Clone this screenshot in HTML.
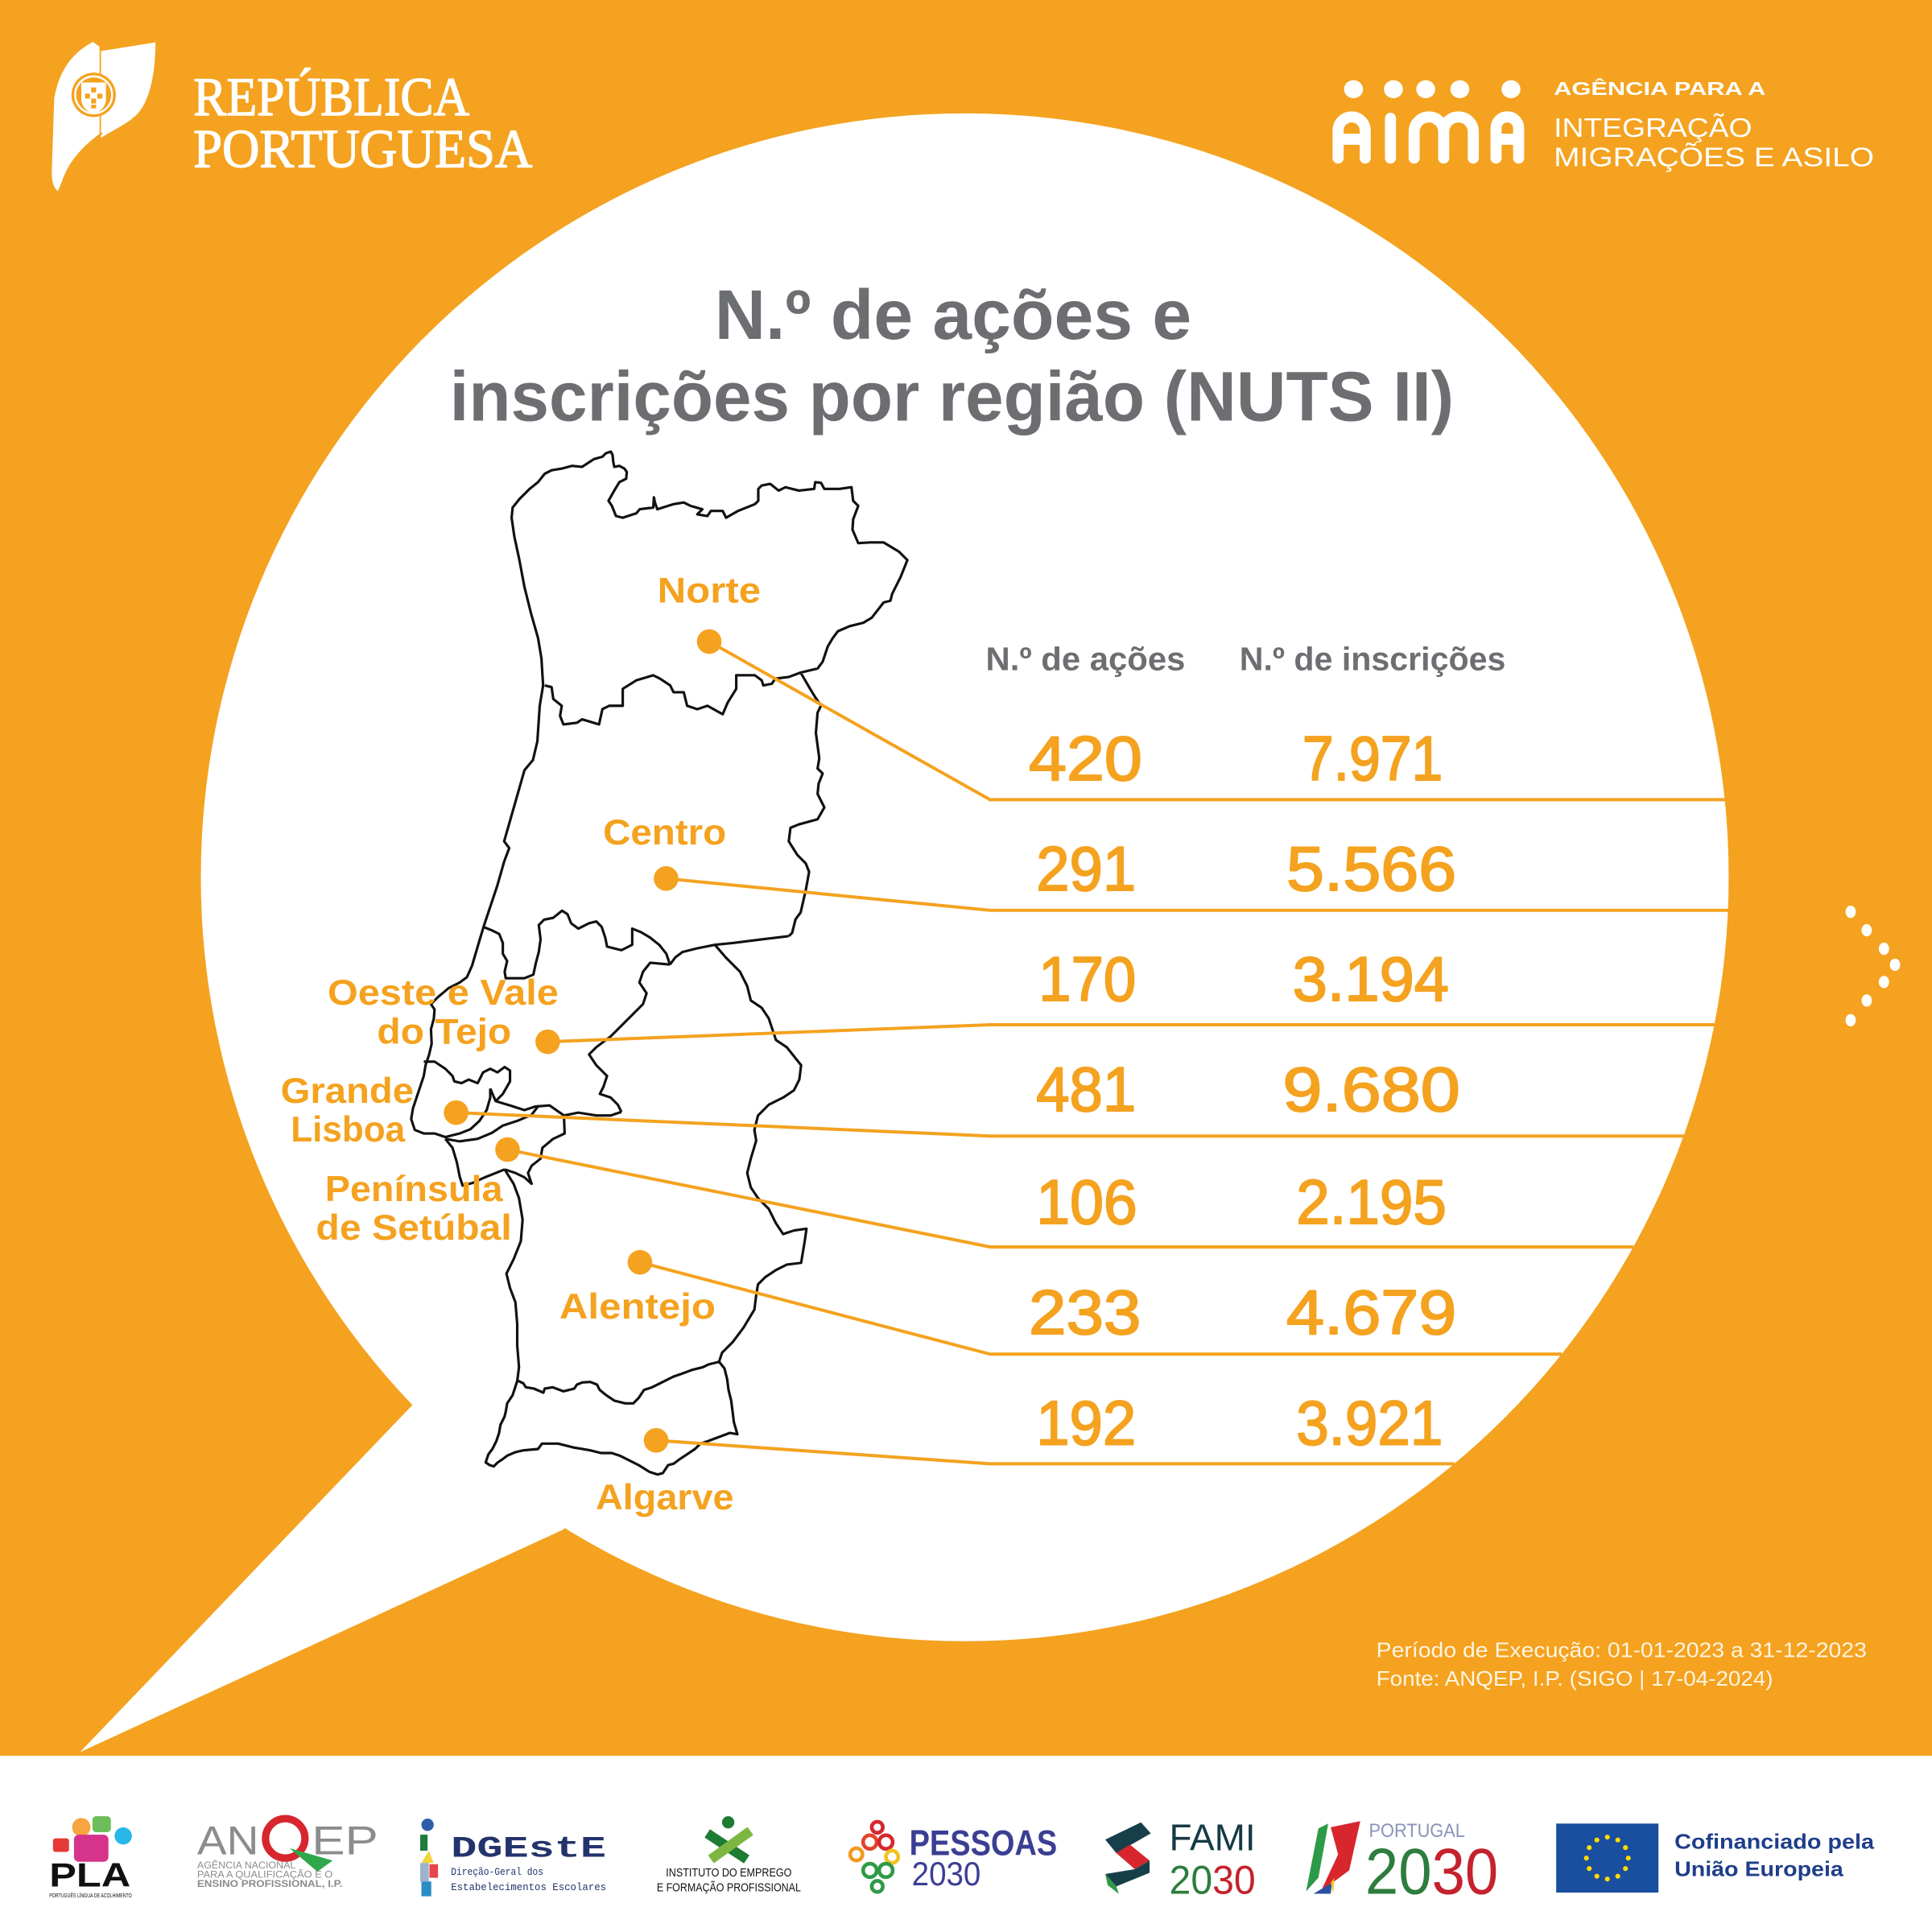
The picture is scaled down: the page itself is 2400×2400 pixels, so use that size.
<!DOCTYPE html>
<html><head><meta charset="utf-8"><style>
html,body{margin:0;padding:0;background:#F4A21F}
svg{display:block}
text{font-family:"Liberation Sans",sans-serif}
</style></head><body>
<svg xmlns="http://www.w3.org/2000/svg" width="2400" height="2400" viewBox="0 0 2400 2400">
<rect width="2400" height="2400" fill="#F4A21F"/>
<g transform="scale(1.530612)">
  <!-- bubble -->
  <circle cx="783" cy="712" r="620" fill="#fff"/>
  <polygon points="335,1140 65,1422 458,1241 450,1150" fill="#fff"/>
  <!-- footer band -->
  <rect x="0" y="1425" width="1568" height="143" fill="#fff"/>

  <!-- RP logo -->
  <path d="M75.5,34 C60,42 48,56 44,80 L42,140 C42,148 44,153 47,155 L50,148 C56,130 68,118 80.8,110 L80.8,38 Z" fill="#fff"/>
  <path d="M82,41.4 L126.2,34.4 C126,60 122,80 112,92 C102,102 90,106 82,112 Z" fill="#fff"/>
  <path d="M80,114 C66,122 56,134 50,150 M83,108 C70,117 60,128 54,140" stroke="#F4A21F" stroke-width="1.4" fill="none"/>
  <circle cx="76" cy="77" r="18" fill="#F4A21F"/>
  <circle cx="76" cy="77" r="15" fill="none" stroke="#fff" stroke-width="1.6"/>
  <path d="M66,67 H86 V80 C86,87 81,91 76,92 C71,91 66,87 66,80 Z" fill="#fff"/>
  <g fill="#F4A21F"><rect x="74" y="71" width="4" height="4"/><rect x="69" y="76" width="4" height="4"/><rect x="79" y="76" width="4" height="4"/><rect x="74" y="80" width="4" height="4"/><rect x="74" y="85" width="4" height="3"/></g>
  <text x="157" y="93.5" font-size="44" fill="#fff" stroke="#fff" stroke-width="0.9" textLength="224" lengthAdjust="spacingAndGlyphs" style="font-family:'Liberation Serif',serif">REPÚBLICA</text>
  <text x="157" y="135.5" font-size="44" fill="#fff" stroke="#fff" stroke-width="0.9" textLength="275" lengthAdjust="spacingAndGlyphs" style="font-family:'Liberation Serif',serif">PORTUGUESA</text>

  <!-- AIMA logo -->
  <g fill="#fff">
    <ellipse cx="1098.5" cy="72.4" rx="7.7" ry="7.3"/>
    <ellipse cx="1130.9" cy="72.4" rx="7.7" ry="7.3"/>
    <ellipse cx="1157.1" cy="72.4" rx="7.7" ry="7.3"/>
    <ellipse cx="1184.8" cy="72.4" rx="7.7" ry="7.3"/>
    <ellipse cx="1226.3" cy="72.4" rx="7.7" ry="7.3"/>
  </g>
  <g fill="none" stroke="#fff" stroke-width="9" stroke-linecap="round">
    <path d="M1086,128.3 V105.9 A11,11 0 0 1 1108,105.9 V128.3 M1086,113 H1108"/>
    <path d="M1128.5,96 V128.3"/>
    <path d="M1147.7,128.3 V106.9 A12,12 0 0 1 1171.7,106.9 V128.3 M1171.7,106.9 A12,12 0 0 1 1195.7,106.9 V128.3"/>
    <path d="M1214.2,128.3 V104 A9.15,9.15 0 0 1 1232.5,104 V128.3 M1214.2,113 H1232.5"/>
  </g>
  <text x="1261" y="77" font-size="15" font-weight="bold" fill="#fff" textLength="172" lengthAdjust="spacingAndGlyphs">AGÊNCIA PARA A</text>
  <text x="1261" y="111" font-size="22" fill="#fff" textLength="161" lengthAdjust="spacingAndGlyphs">INTEGRAÇÃO</text>
  <text x="1261" y="135" font-size="22" fill="#fff" textLength="260" lengthAdjust="spacingAndGlyphs">MIGRAÇÕES E ASILO</text>

  <!-- Title -->
  <text x="580" y="275" font-size="57" font-weight="bold" fill="#6D6E71" textLength="387" lengthAdjust="spacingAndGlyphs">N.º de ações e</text>
  <text x="365" y="341.5" font-size="57" font-weight="bold" fill="#6D6E71" textLength="815" lengthAdjust="spacingAndGlyphs">inscrições por região (NUTS II)</text>

  <!-- Column headers -->
  <text x="800" y="544" font-size="26.5" font-weight="bold" fill="#6D6E71" textLength="162" lengthAdjust="spacingAndGlyphs">N.º de ações</text>
  <text x="1006" y="544" font-size="26.5" font-weight="bold" fill="#6D6E71" textLength="216" lengthAdjust="spacingAndGlyphs">N.º de inscrições</text>

  <!-- Numbers -->
  <g font-size="51" fill="#F4A21F" stroke="#F4A21F" stroke-width="1.3" stroke-linejoin="round">
    <text x="835" y="633" textLength="92" lengthAdjust="spacingAndGlyphs">420</text>
    <text x="1057" y="633" textLength="114" lengthAdjust="spacingAndGlyphs">7.971</text>
    <text x="841" y="722.5" textLength="81" lengthAdjust="spacingAndGlyphs">291</text>
    <text x="1044" y="722.5" textLength="138" lengthAdjust="spacingAndGlyphs">5.566</text>
    <text x="843" y="812" textLength="79" lengthAdjust="spacingAndGlyphs">170</text>
    <text x="1049" y="812" textLength="127" lengthAdjust="spacingAndGlyphs">3.194</text>
    <text x="841" y="901.5" textLength="81" lengthAdjust="spacingAndGlyphs">481</text>
    <text x="1041" y="901.5" textLength="144" lengthAdjust="spacingAndGlyphs">9.680</text>
    <text x="841" y="993" textLength="82" lengthAdjust="spacingAndGlyphs">106</text>
    <text x="1052" y="993" textLength="122" lengthAdjust="spacingAndGlyphs">2.195</text>
    <text x="835" y="1082.5" textLength="91" lengthAdjust="spacingAndGlyphs">233</text>
    <text x="1044" y="1082.5" textLength="138" lengthAdjust="spacingAndGlyphs">4.679</text>
    <text x="841" y="1172.5" textLength="81" lengthAdjust="spacingAndGlyphs">192</text>
    <text x="1052" y="1172.5" textLength="119" lengthAdjust="spacingAndGlyphs">3.921</text>
  </g>

  <!-- Right arrow dots -->
  <g fill="#fff">
    <ellipse cx="1502" cy="740" rx="4.2" ry="5"/>
    <ellipse cx="1515" cy="755" rx="4.2" ry="5"/>
    <ellipse cx="1529" cy="770" rx="4.2" ry="5"/>
    <ellipse cx="1538" cy="783" rx="4.2" ry="5"/>
    <ellipse cx="1529" cy="797" rx="4.2" ry="5"/>
    <ellipse cx="1515" cy="812" rx="4.2" ry="5"/>
    <ellipse cx="1502" cy="828" rx="4.2" ry="5"/>
  </g>

  <!-- Footnote -->
  <text x="1117" y="1345" font-size="17" fill="#FFF4E2" textLength="398" lengthAdjust="spacingAndGlyphs">Período de Execução: 01-01-2023 a 31-12-2023</text>
  <text x="1117" y="1368" font-size="17" fill="#FFF4E2" textLength="322" lengthAdjust="spacingAndGlyphs">Fonte: ANQEP, I.P. (SIGO | 17-04-2024)</text>
</g>

<!-- MAP -->
<g fill="none" stroke="#111" stroke-linejoin="round">
  <g transform="translate(500,540) scale(0.42092)" stroke-width="7.5">
    <path d="M205,1568 L225,1500 L240,1450 L260,1390 L280,1330 L300,1260 L315,1220 L300,1200 L320,1130 L340,1060 L360,990 L385,960 L398,905 L405,800 L415,740 L410,660 L400,600 L380,530 L360,450 L345,370 L330,300 L322,245 L325,215 L345,190 L375,160 L400,140 L420,115 L440,105 L470,100 L500,92 L530,95 L545,85 L565,72 L590,65 L600,55 L615,50 L620,60 L622,80 L625,95 L640,92 L655,100 L662,110 L660,130 L640,140 L625,165 L608,195 L618,210 L630,240 L650,245 L690,232 L700,220 L740,215 L742,185 L745,200 L752,220 L800,205 L830,200 L850,210 L885,220 L870,235 L900,240 L910,225 L945,225 L955,245 L990,225 L1040,205 L1050,195 L1050,160 L1060,150 L1085,145 L1110,165 L1130,155 L1170,165 L1215,160 L1218,140 L1235,142 L1245,160 L1290,160 L1325,155 L1330,195 L1345,210 L1330,250 L1328,280 L1345,320 L1380,318 L1420,318 L1465,345 L1490,370 L1470,420 L1445,470 L1440,490 L1420,495 L1385,540 L1360,555 L1320,565 L1285,580 L1270,600 L1255,625 L1240,670 L1225,690 L1175,702 L1200,745 L1215,770 L1235,800 L1225,820 L1220,880 L1230,955 L1225,985 L1240,1000 L1228,1030 L1225,1060 L1245,1100 L1225,1135 L1170,1150 L1145,1160 L1140,1200 L1165,1240 L1190,1265 L1200,1290 L1190,1345 L1175,1410 L1160,1430 L1150,1470 L1140,1480"/>
    <path d="M420,740 L440,745 L445,780 L470,800 L465,830 L475,855 L515,850 L530,840 L580,855 L590,810 L610,800 L650,800 L650,750 L690,725 L740,710 L760,720 L790,740 L800,760 L830,760 L840,800 L870,810 L900,800 L945,825 L960,790 L985,750 L985,710 L1040,710 L1060,725 L1065,740 L1090,735 L1100,720 L1140,715 L1175,702"/>
  </g>
  <g transform="translate(330,1100) scale(0.44643)" stroke-width="7">
    <path d="M574,224 L560,255 L540,270 L510,285 L480,310 L460,330 L470,345 L468,370 L460,400 L462,440 L455,470 L445,500 L440,530 L430,560 L420,590 L410,620 L405,650 L415,680 L440,690 L470,690 L500,700 L540,690 L570,678 L595,655 L615,625 L625,590 L625,565"/>
    <path d="M605,115 L630,125 L650,135 L660,160 L660,190 L672,210 L665,240 L668,258 L720,258 L745,248 L752,215 L760,185 L765,150 L760,110 L775,95 L800,90 L825,70 L840,80 L850,105 L870,120 L900,105 L920,100 L935,115 L945,145 L950,170 L990,180 L1020,165 L1020,120 L1045,130 L1070,145 L1095,165 L1115,190 L1125,220"/>
    <path d="M1455,141 L1380,150 L1300,160 L1250,165 L1200,175 L1160,185 L1140,200 L1125,220"/>
    <path d="M1250,165 L1280,200 L1320,240 L1340,280 L1350,320 L1380,340 L1400,370 L1420,430 L1450,450 L1490,500 L1485,540 L1470,570 L1440,590 L1400,610 L1370,640 L1360,680 L1365,710 L1350,760 L1340,800 L1350,840 L1370,870 L1400,900 L1420,940 L1440,970 L1470,960 L1505,955 L1500,990 L1495,1020 L1490,1050 L1450,1055 L1420,1070 L1390,1090 L1370,1110 L1365,1140 L1360,1180 L1330,1230 L1300,1270 L1270,1300 L1260,1330"/>
    <path d="M1125,220 L1070,215 L1050,240 L1040,270 L1060,300 L1050,330 L1020,360 L990,390 L960,420 L920,450 L900,470 L920,500 L950,530 L940,560 L930,580 L960,590 L980,610 L990,630"/>
    <path d="M625,565 L640,600 L680,612 L720,625 L750,615 L790,612 L830,640 L870,632 L920,640 L960,640 L990,630"/>
    <path d="M440,490 L470,490 L500,510 L520,530 L525,545 L545,550 L565,540 L590,550 L605,520 L625,510 L645,520 L665,505 L680,515 L680,545 L660,580 L640,600"/>
    <path d="M830,640 L832,690 L800,705 L770,730 L765,760 L740,780 L730,800 L740,830 L720,812 L695,800 L665,790"/>
    <path d="M500,705 L520,730 L532,770 L540,810 L548,835 L575,828 L610,812 L640,800 L665,790"/>
    <path d="M500,705 L540,712 L590,705 L630,688 L660,668 L700,655 L740,638 L760,612"/>
    <path d="M665,790 L690,830 L705,870 L715,930 L710,990 L690,1040 L670,1080 L680,1120 L695,1160 L700,1220 L700,1280 L705,1340 L700,1380"/>
  </g>
  <g transform="translate(560,1600) scale(0.33333)" stroke-width="9.5">
    <path d="M248,345 L270,355 L280,370 L310,375 L345,390 L350,375 L380,370 L420,385 L460,375 L470,360 L490,352 L520,350 L545,360 L555,380 L580,400 L610,420 L650,430 L680,430 L700,410 L720,380 L750,370 L790,350 L830,330 L860,320 L900,305 L940,295 L960,285 L1000,275 L1020,300 L1030,340 L1035,380 L1045,420 L1050,460 L1055,500 L1068,545 L1040,540 L1000,555 L960,570 L930,580 L910,600 L880,620 L850,640 L830,655 L810,660 L790,690 L770,695 L740,685 L700,660 L660,640 L630,625 L600,615 L560,615 L520,605 L490,600 L460,595 L420,585 L400,580 L340,580 L325,600 L270,605 L240,612 L210,625 L190,640 L175,650 L160,665 L145,660 L130,650 L140,620 L155,600 L170,570 L180,540 L185,510 L200,480 L205,460 L210,430 L230,400 L240,370 Z"/>
  </g>
</g>

<g transform="scale(1.530612)">
  <!-- Connectors and row lines -->
  <g stroke="#F4A21F" stroke-width="2.6" fill="none">
    <polyline points="575.6,520.7 803.5,649 1400,649"/>
    <polyline points="540.6,713 803.5,738.8 1402.5,738.8"/>
    <polyline points="444.5,845.5 803.5,831.7 1391.5,831.7"/>
    <polyline points="370.2,903 803.5,922 1366.5,922"/>
    <polyline points="411.9,933 803.5,1012 1325.7,1012"/>
    <polyline points="519.4,1024.5 803.5,1099 1267.5,1099"/>
    <polyline points="532.5,1169 803.5,1188 1180.5,1188"/>
  </g>
  <g fill="#F4A21F">
    <circle cx="575.6" cy="520.7" r="10"/>
    <circle cx="540.6" cy="713" r="10"/>
    <circle cx="444.5" cy="845.5" r="10"/>
    <circle cx="370.2" cy="903" r="10"/>
    <circle cx="411.9" cy="933" r="10"/>
    <circle cx="519.4" cy="1024.5" r="10"/>
    <circle cx="532.5" cy="1169" r="10"/>
  </g>
  <!-- Region labels -->
  <g font-size="29" font-weight="bold" fill="#F4A21F">
    <text x="533.5" y="489" textLength="84" lengthAdjust="spacingAndGlyphs">Norte</text>
    <text x="489.4" y="685.3" textLength="100" lengthAdjust="spacingAndGlyphs">Centro</text>
    <text x="265.8" y="815.5" textLength="187.5" lengthAdjust="spacingAndGlyphs">Oeste e Vale</text>
    <text x="306" y="847" textLength="109" lengthAdjust="spacingAndGlyphs">do Tejo</text>
    <text x="227.8" y="895" textLength="108" lengthAdjust="spacingAndGlyphs">Grande</text>
    <text x="236" y="926.3" textLength="92.7" lengthAdjust="spacingAndGlyphs">Lisboa</text>
    <text x="263.8" y="974.8" textLength="144.2" lengthAdjust="spacingAndGlyphs">Península</text>
    <text x="256.4" y="1006" textLength="159" lengthAdjust="spacingAndGlyphs">de Setúbal</text>
    <text x="454" y="1070" textLength="126.8" lengthAdjust="spacingAndGlyphs">Alentejo</text>
    <text x="483.5" y="1225" textLength="112" lengthAdjust="spacingAndGlyphs">Algarve</text>
  </g>

  <!-- FOOTER LOGOS -->
  <!-- PLA -->
  <circle cx="66" cy="1483" r="7.5" fill="#F7A541"/>
  <rect x="75" y="1474" width="15" height="13" rx="3" fill="#6DBE5B"/>
  <circle cx="100" cy="1490" r="7" fill="#29B6E8"/>
  <rect x="43" y="1492" width="13" height="11" rx="2" fill="#E53935"/>
  <rect x="60" y="1489" width="28" height="22" rx="4" fill="#D6338A"/>
  <text x="40" y="1531" font-size="27" font-weight="bold" fill="#111" textLength="66" lengthAdjust="spacingAndGlyphs">PLA</text>
  <text x="40" y="1540" font-size="4.5" fill="#111" textLength="67" lengthAdjust="spacingAndGlyphs">PORTUGUÊS LÍNGUA DE ACOLHIMENTO</text>
  <!-- ANQEP -->
  <text x="160" y="1505" font-size="33" fill="#8A8C8E" textLength="50" lengthAdjust="spacingAndGlyphs">AN</text>
  <circle cx="231.5" cy="1492" r="16" fill="none" stroke="#D7262E" stroke-width="6"/>
  <polygon points="235,1500 270,1510 257.6,1519" fill="#2EA84A"/>
  <text x="253" y="1505" font-size="33" fill="#8A8C8E" textLength="54" lengthAdjust="spacingAndGlyphs">EP</text>
  <text x="160" y="1516.5" font-size="7.6" fill="#8A8C8E" textLength="80" lengthAdjust="spacingAndGlyphs">AGÊNCIA NACIONAL</text>
  <text x="160" y="1524" font-size="7.6" fill="#8A8C8E" textLength="110" lengthAdjust="spacingAndGlyphs">PARA A QUALIFICAÇÃO E O</text>
  <text x="160" y="1531.5" font-size="7.6" font-weight="bold" fill="#8A8C8E" textLength="118" lengthAdjust="spacingAndGlyphs">ENSINO PROFISSIONAL, I.P.</text>
  <!-- DGEstE -->
  <circle cx="347" cy="1481" r="5" fill="#2B5FA8"/>
  <rect x="341" y="1489" width="6" height="13" fill="#1E7B3C"/>
  <polygon points="342,1512 352,1512 348,1502" fill="#F2D43C"/>
  <rect x="341" y="1512" width="7" height="15" fill="#9DB3CC"/>
  <rect x="348.5" y="1513" width="7" height="11" fill="#E5444C"/>
  <rect x="342" y="1527" width="8" height="12" fill="#2A8CC4"/>
  <text x="366" y="1507" font-size="24" font-weight="bold" fill="#23336B" textLength="126" lengthAdjust="spacingAndGlyphs" style="font-family:'Liberation Mono',monospace">DGEstE</text>
  <text x="366" y="1521.5" font-size="8.5" fill="#23336B" textLength="75" lengthAdjust="spacingAndGlyphs" style="font-family:'Liberation Mono',monospace">Direção-Geral dos</text>
  <text x="366" y="1534" font-size="8.5" fill="#23336B" textLength="126" lengthAdjust="spacingAndGlyphs" style="font-family:'Liberation Mono',monospace">Estabelecimentos Escolares</text>
  <!-- IEFP -->
  <line x1="574" y1="1488" x2="606" y2="1509" stroke="#1E7B34" stroke-width="8"/>
  <line x1="609" y1="1486" x2="577" y2="1509" stroke="#7DB742" stroke-width="8"/>
  <circle cx="591" cy="1479" r="5" fill="#1E7B34"/>
  <text x="540.5" y="1523" font-size="9.5" fill="#111" textLength="102" lengthAdjust="spacingAndGlyphs">INSTITUTO DO EMPREGO</text>
  <text x="533" y="1535" font-size="9.5" fill="#111" textLength="117" lengthAdjust="spacingAndGlyphs">E FORMAÇÃO PROFISSIONAL</text>
  <!-- PESSOAS 2030 -->
  <g fill="none" stroke-width="3">
    <circle cx="712" cy="1483" r="4.5" stroke="#D7262E"/>
    <circle cx="706" cy="1495" r="5.5" stroke="#E3432B"/>
    <circle cx="719" cy="1495" r="5.5" stroke="#D7262E"/>
    <circle cx="695" cy="1505" r="5" stroke="#F29A1F"/>
    <circle cx="724" cy="1507" r="5" stroke="#F2C21F"/>
    <circle cx="706" cy="1518" r="5.5" stroke="#2E9A48"/>
    <circle cx="719" cy="1518" r="5.5" stroke="#2E9A48"/>
    <circle cx="712" cy="1531" r="4.5" stroke="#2E9A48"/>
  </g>
  <text x="738" y="1505.5" font-size="29" font-weight="bold" fill="#3B3F93" textLength="120" lengthAdjust="spacingAndGlyphs">PESSOAS</text>
  <text x="740" y="1530" font-size="27" fill="#3B3F93" textLength="56" lengthAdjust="spacingAndGlyphs">2030</text>
  <!-- FAMI -->
  <polygon points="926,1479 934,1488 906,1504 897,1493" fill="#173F4A"/>
  <polygon points="906,1504 917,1497 933,1510 921,1517" fill="#D7262E"/>
  <polygon points="921,1517 933,1510 933,1520 906,1531 897,1521" fill="#173F4A"/>
  <polygon points="897,1521 906,1531 908,1537 899,1530" fill="#2E9A48"/>
  <text x="949" y="1501.6" font-size="30" fill="#163A45" textLength="70" lengthAdjust="spacingAndGlyphs">FAMI</text>
  <text x="949" y="1537" font-size="33" fill="#2E7D3E" textLength="35" lengthAdjust="spacingAndGlyphs">20</text>
  <text x="984" y="1537" font-size="33" fill="#C4222D" textLength="35" lengthAdjust="spacingAndGlyphs">30</text>
  <!-- PORTUGAL 2030 -->
  <polygon points="1060,1535 1070,1484 1078,1480 1070,1524" fill="#2E9A48"/>
  <polygon points="1080,1483 1104,1478 1095,1518 1072,1535 1086,1505" fill="#D7262E"/>
  <polygon points="1066,1537 1081,1528 1080,1537" fill="#2B4FA0"/>
  <polygon points="1080,1528 1083,1524 1082,1537" fill="#F2C21F"/>
  <text x="1111" y="1491" font-size="16" fill="#8A93B8" textLength="78" lengthAdjust="spacingAndGlyphs">PORTUGAL</text>
  <text x="1108" y="1537" font-size="53" fill="#2E7D3E" textLength="54" lengthAdjust="spacingAndGlyphs">20</text>
  <text x="1162" y="1537" font-size="53" fill="#C4222D" textLength="54" lengthAdjust="spacingAndGlyphs">30</text>
  <!-- EU -->
  <rect x="1263" y="1480" width="83" height="56" fill="#1A4E9F"/>
  <g fill="#FFDD00">
    <circle cx="1304.5" cy="1491" r="2"/><circle cx="1313" cy="1493.3" r="2"/><circle cx="1319.2" cy="1499.5" r="2"/>
    <circle cx="1321.5" cy="1508" r="2"/><circle cx="1319.2" cy="1516.5" r="2"/><circle cx="1313" cy="1522.7" r="2"/>
    <circle cx="1304.5" cy="1525" r="2"/><circle cx="1296" cy="1522.7" r="2"/><circle cx="1289.8" cy="1516.5" r="2"/>
    <circle cx="1287.5" cy="1508" r="2"/><circle cx="1289.8" cy="1499.5" r="2"/><circle cx="1296" cy="1493.3" r="2"/>
  </g>
  <text x="1359" y="1500.5" font-size="17" font-weight="bold" fill="#1F3E8A" textLength="162" lengthAdjust="spacingAndGlyphs">Cofinanciado pela</text>
  <text x="1359" y="1522.5" font-size="17" font-weight="bold" fill="#1F3E8A" textLength="137" lengthAdjust="spacingAndGlyphs">União Europeia</text>
</g>
</svg>
</body></html>
